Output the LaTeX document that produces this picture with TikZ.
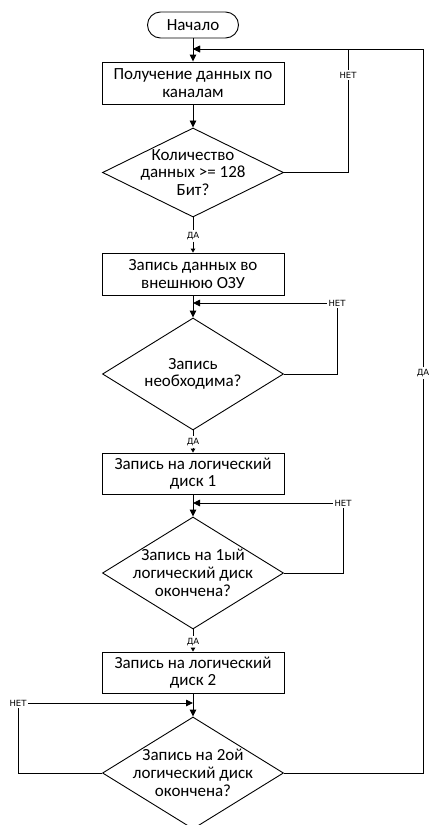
\documentclass[tikz,border=0pt]{standalone}
\usepackage{fontspec}
\setmainfont{Carlito}
\newfontfamily\answerfont{DejaVu Sans}
\usetikzlibrary{shapes.geometric,arrows.meta}

\begin{document}
\begin{tikzpicture}[x=1pt, y=1pt, line width=0.9pt,
  every node/.style={font=\fontsize{17}{17.7}\selectfont},
  terminal/.style={draw, rectangle, rounded corners=13pt, minimum width=91pt, minimum height=26pt, inner sep=0pt},
  process/.style={draw, rectangle, minimum width=182pt, minimum height=42pt, align=center, inner sep=0pt},
  decision/.style={draw, diamond, minimum width=181pt, minimum height=112pt, inner sep=0pt},
  answer/.style={font=\answerfont\fontsize{8.5}{9}\selectfont, fill=white, inner sep=1.5pt},
  flow/.style={-{Triangle[length=7pt,width=6.5pt]}},
  shortflow/.style={-{Triangle[length=4pt,width=4.5pt]}}]
\useasboundingbox (0,0) rectangle (430,-825);

%%% main column %%%
      \node[terminal] (start) at (193,-25) {Начало};
      \coordinate (j0) at (193,-49);
      \node[process] (get) at (193,-83) {Получение данных по\\каналам};
      \node[decision, minimum height=89pt, label={[align=center]center:Количество\\данных >= 128\\Бит?}] (q1) at (193,-172.5) {};
      \node[answer] (yes1) at (193,-236) {ДА};
      \node[process] (ram) at (193,-274) {Запись данных во\\внешнюю ОЗУ};
      \coordinate (j1) at (193,-303);
      \node[decision, label={[align=center]center:Запись\\необходима?}] (q2) at (193,-374) {};
      \node[answer] (yes2) at (193,-442) {ДА};
      \node[process, minimum height=41pt] (disk1) at (193,-473.5) {Запись на логический\\диск 1};
      \coordinate (j2) at (193,-503);
      \node[decision, label={[align=center]center:Запись на 1ый\\логический диск\\окончена?}] (q3) at (193,-573) {};
      \node[answer] (yes3) at (193,-642) {ДА};
      \node[process, minimum height=41pt] (disk2) at (193,-672.5) {Запись на логический\\диск 2};
      \coordinate (j3) at (193,-703);
      \node[decision, label={[align=center]center:Запись на 2ой\\логический диск\\окончена?}] (q4) at (193,-773) {};

      %% answers on the loops
      \node[answer] (no1) at (348,-75) {НЕТ};
      \node[answer] (no2) at (337,-303) {НЕТ};
      \node[answer] (no3) at (343,-503) {НЕТ};
      \node[answer] (no4) at (18,-703) {НЕТ};
      \node[answer] (yes4) at (423,-373) {ДА};

%%% connectors %%%
      \draw[flow] (start) -- (get);
      \draw[flow] (get) -- (q1);
      \draw (q1) -- (yes1);
      \draw[shortflow] (yes1) -- (ram);
      \draw[flow] (ram) -- (q2);
      \draw (q2) -- (yes2);
      \draw[shortflow] (yes2) -- (disk1);
      \draw[flow] (disk1) -- (q3);
      \draw (q3) -- (yes3);
      \draw[shortflow] (yes3) -- (disk2);
      \draw[flow] (disk2) -- (q4);

      %% loops back
      \draw (q1.east) -| (no1);
      \draw[flow] (no1) |- (j0);
      \draw (q2.east) -| (no2);
      \draw[flow] (no2) -- (j1);
      \draw (q3.east) -| (no3);
      \draw[flow] (no3) -- (j2);
      \draw (q4.west) -| (no4);
      \draw[flow] (no4) -- (j3);
      \draw (q4.east) -| (yes4);
      \draw[flow] (yes4) |- (j0);

\end{tikzpicture}
\end{document}
